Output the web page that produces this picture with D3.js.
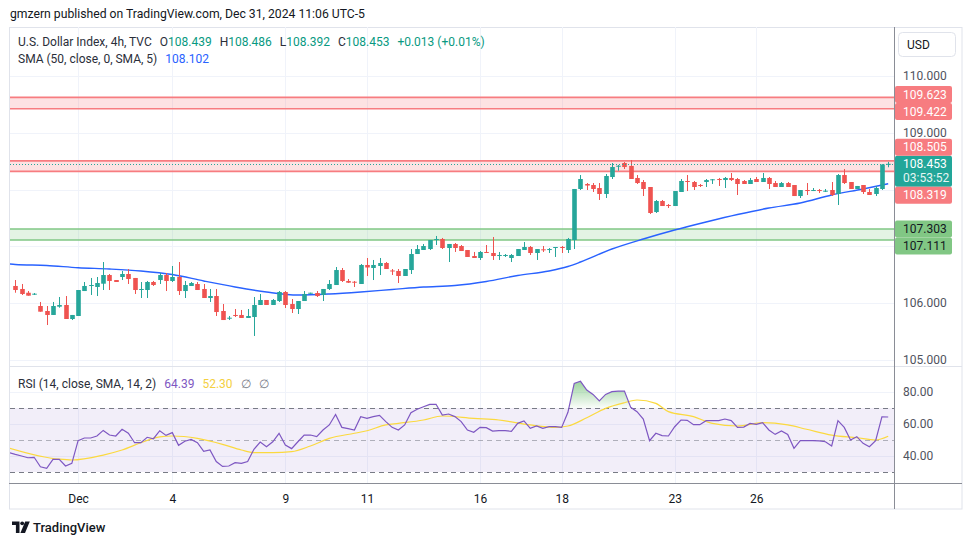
<!DOCTYPE html>
<html><head><meta charset="utf-8">
<script src="https://cdn.jsdelivr.net/npm/d3@7"></script>
<style>body{margin:0;background:#fff}svg{display:block;font-family:Roboto,"Noto Sans",sans-serif}</style>
</head><body><svg id="c" width="970" height="545"></svg>
<script>
// ---------- DATA ----------
const opens=[106.300,106.247,106.181,106.153,105.947,105.859,105.789,105.935,105.965,105.718,
105.771,106.211,106.305,106.282,106.340,106.493,106.405,106.458,106.511,106.441,
106.234,106.229,106.370,106.405,106.493,106.388,106.458,106.211,106.300,106.335,
106.247,106.088,106.123,105.859,105.723,105.789,105.789,105.736,105.753,105.965,
106.053,105.965,106.035,106.194,105.982,105.894,106.035,106.164,106.176,106.141,
106.247,106.317,106.581,106.388,106.375,106.335,106.670,106.617,106.652,106.705,
106.573,106.564,106.476,106.581,106.863,106.934,106.951,107.110,107.128,106.969,
107.040,107.004,106.934,106.828,106.793,106.899,106.881,106.828,106.828,106.793,
106.828,106.934,106.987,106.881,106.946,106.934,106.969,106.987,106.934,107.110,
108.009,108.097,108.079,108.026,107.921,108.220,108.402,108.467,108.414,108.203,
108.132,108.044,107.603,107.797,107.727,107.709,107.956,108.150,108.132,108.079,
108.132,108.167,108.185,108.167,108.203,108.185,108.150,108.097,108.185,108.132,
108.203,108.114,108.044,108.114,108.079,107.885,107.991,107.973,107.991,107.961,
107.991,107.921,108.255,108.132,108.009,108.079,107.956,107.921,108.009,108.439];
const highs=[106.405,106.335,106.211,106.176,106.018,105.947,106.018,106.106,106.123,105.789,
106.229,106.370,106.441,106.458,106.722,106.511,106.405,106.564,106.599,106.441,
106.370,106.388,106.388,106.529,106.529,106.652,106.722,106.388,106.370,106.370,
106.335,106.247,106.247,105.982,105.771,105.894,105.877,105.894,106.106,106.159,
106.053,106.070,106.211,106.211,106.070,106.035,106.211,106.181,106.211,106.247,
106.405,106.634,106.617,106.423,106.388,106.687,106.793,106.758,106.793,106.722,
106.599,106.599,106.599,106.951,107.022,107.040,107.110,107.181,107.146,107.040,
107.057,107.022,106.934,106.899,106.916,107.022,107.163,106.899,106.863,106.863,
106.951,107.075,107.004,106.951,107.004,106.969,106.987,107.004,107.146,108.009,
108.255,108.114,108.114,108.114,108.273,108.467,108.432,108.484,108.520,108.255,
108.167,108.044,107.815,107.815,107.744,107.973,108.185,108.255,108.150,108.097,
108.185,108.185,108.203,108.220,108.291,108.203,108.167,108.203,108.220,108.291,
108.220,108.150,108.132,108.132,108.079,107.991,108.114,108.026,108.009,108.009,
108.132,108.273,108.361,108.132,108.062,108.079,108.009,108.062,108.445,108.486];
const lows=[106.181,106.141,106.129,106.141,105.847,105.612,105.789,105.917,105.718,105.700,
105.771,106.211,106.141,106.123,106.229,106.229,106.370,106.405,106.335,106.159,
106.088,106.088,106.300,106.335,106.211,106.370,106.141,106.088,106.300,106.229,
106.088,106.018,105.771,105.700,105.700,105.753,105.736,105.736,105.419,105.965,
105.965,105.965,106.018,105.912,105.824,105.806,106.035,106.164,106.106,106.035,
106.229,106.317,106.370,106.352,106.282,106.335,106.476,106.405,106.493,106.599,
106.493,106.352,106.476,106.511,106.863,106.934,106.934,107.022,106.951,106.722,
106.899,106.916,106.811,106.793,106.758,106.881,106.758,106.758,106.811,106.722,
106.828,106.934,106.846,106.758,106.899,106.881,106.811,106.881,106.881,106.951,
107.991,107.991,107.956,107.815,107.850,108.185,108.331,108.361,108.185,108.097,
107.885,107.568,107.586,107.709,107.674,107.709,107.956,107.973,107.991,108.044,
108.044,108.097,108.062,108.026,108.150,107.903,108.097,108.097,108.132,108.132,
108.009,108.044,108.044,108.044,107.885,107.850,107.903,107.973,107.938,107.956,
107.885,107.727,108.097,108.009,108.009,107.921,107.903,107.885,107.991,108.392];
const closes=[106.229,106.159,106.129,106.164,105.847,105.789,105.947,105.965,105.718,105.789,
106.229,106.300,106.317,106.352,106.493,106.388,106.370,106.511,106.423,106.229,
106.247,106.370,106.317,106.493,106.388,106.458,106.211,106.317,106.352,106.229,
106.088,106.123,105.841,105.700,105.741,105.771,105.736,105.771,105.965,106.053,
105.965,106.053,106.194,105.965,105.894,106.035,106.159,106.181,106.123,106.247,
106.335,106.581,106.388,106.358,106.365,106.670,106.626,106.670,106.705,106.599,
106.564,106.476,106.599,106.863,106.951,107.004,107.110,107.128,106.969,107.040,
106.969,106.916,106.811,106.793,106.899,106.886,106.828,106.846,106.846,106.846,
106.951,106.987,106.881,106.951,106.929,106.951,106.987,106.969,107.128,108.009,
108.185,108.070,108.009,107.921,108.238,108.396,108.419,108.396,108.185,108.114,
108.009,107.586,107.797,107.709,107.709,107.973,108.150,108.132,108.044,108.062,
108.167,108.180,108.167,108.203,108.167,108.097,108.097,108.167,108.132,108.203,
108.097,108.044,108.114,108.044,107.885,107.991,107.973,107.991,107.973,107.979,
107.903,108.255,108.114,108.009,108.062,107.956,107.903,108.026,108.440,108.453];

const smaIdx=[-1,0,5,10,15,20,25,30,35,40,45,50,55,60,65,70,75,80,85,88,90,95,100,105,110,115,120,125,130,135,139];
const smaVal=[106.69,106.678,106.661,106.622,106.599,106.564,106.502,106.388,106.282,106.194,106.141,106.159,106.194,106.238,106.282,106.308,106.379,106.485,106.564,106.643,106.722,106.951,107.128,107.286,107.427,107.559,107.674,107.762,107.903,108.009,108.102];

const rsiStart=-1;
const rsiVal=[42.1,41.0,40,38.9,39.2,33.3,32.3,37.9,37.9,33.75,35.4,
49.6,51.25,51.25,52.5,56,53.1,52.5,56.7,54.2,48.3,
48.3,51.7,50.8,55.8,52.9,54.6,46.7,49.2,50.4,48.3,
42.9,43.75,36.5,33.5,33.75,35.8,35.4,36.5,44.2,48.75,
45.8,48.9,54.2,46.9,44.6,48.9,53.1,53.1,52.1,56.25,
59.4,66,57.9,57.1,56.25,64.6,63.5,64.6,65.4,61.5,
57.9,56.25,59.4,67.1,69.2,70.8,72.3,72.3,65.6,66.25,
64.6,61.5,56.25,54.8,57.9,57.7,55.6,55.8,55.8,55.4,
60.4,61.9,57.3,58.75,57.3,58.3,58.3,57.9,67.3,85.4,
86.7,81.25,78.5,74.4,78.5,80.2,80.6,80.6,70.4,67.7,
63.1,49.6,54.2,52.7,52.5,58.3,62.5,62.3,59.6,59.6,
62.1,62.1,62.1,63.1,62.1,57.9,58.1,60.4,59.8,60.8,
56.25,53.5,55.6,53.5,44.8,49.6,49.6,49.6,49.4,48.9,
46.25,62.1,57.9,50,52.1,47.9,45.8,49.6,64.4,64.39];
const rsiMaIdx=[-1,7,9,14,17,20,23,25,29,33,36,38,41,44,47,50,54,56,59,61,65,68,73,77,82,86,88,91,94,97,99,102,104,108,111,115,119,123,126,130,134,137,139];
const rsiMaVal=[45,38,37.5,40.6,43.75,48.3,52,52.5,51,47.3,43.75,42.1,42.1,42.7,46.25,51,54.2,55.8,59.4,60.4,62.5,65,63.5,62.5,59.4,57.9,58.75,63.9,69.8,73.3,75,72.9,67.7,64.6,60.4,58.75,60.8,59.4,56.7,53.1,51.4,50,52.3];

const tickIdx=[10,25,43,56,74,87,105,118];
const tickLabels=["Dec","4","9","11","16","18","23","26"];
const priceTicks=[105,106,107,108,109,110];
const rsiTicks=[40,60,80];
const zoneLo=[109.422,108.319,107.111];
const zoneHi=[109.623,108.505,107.303];
const zoneKind=["red","red","green"];
const countdown="03:53:52";
const smaLast=108.102, rsiLast=64.39, rsiMaLast=52.30;

// ---------- LAYOUT ----------
const svg=d3.select("#c");
const L=10,R=894,mainTop=27,mainBot=366,rsiTop=367,rsiBot=483,axisBot=509,outerR=962;
const n=closes.length;
const x=d3.scaleLinear().domain([0,n-1]).range([15.3,888.2]);
const y=d3.scaleLinear().domain([105,110]).range([359.75,76]);
const yr=d3.scaleLinear().domain([30,70]).range([472,408]);
const UP="#26a69a",DN="#ef5350",GRID="#f0f3fa",BORDER="#e0e3eb",AX="#8a8d96",TXT="#131722";
const colors={red:{line:"#f77c80",fill:"rgba(247,124,128,0.22)",box:"#f77c80",txt:"#fff"},
              green:{line:"#81c784",fill:"rgba(129,199,132,0.22)",box:"#81c784",txt:TXT}};

const defs=svg.append("defs");
defs.append("clipPath").attr("id","cm").append("rect").attr("x",L).attr("y",mainTop).attr("width",R-L).attr("height",mainBot-mainTop);
defs.append("clipPath").attr("id","cr").append("rect").attr("x",L).attr("y",rsiTop).attr("width",R-L).attr("height",rsiBot-rsiTop);
defs.append("clipPath").attr("id","cob").append("rect").attr("x",L).attr("y",rsiTop).attr("width",R-L).attr("height",yr(70)-rsiTop);
const grad=defs.append("linearGradient").attr("id","obg").attr("gradientUnits","userSpaceOnUse")
  .attr("x1",0).attr("x2",0).attr("y1",yr(88)).attr("y2",yr(70));
grad.append("stop").attr("offset",0).attr("stop-color","#4caf50").attr("stop-opacity",0.6);
grad.append("stop").attr("offset",1).attr("stop-color","#4caf50").attr("stop-opacity",0.03);

// header
svg.append("text").attr("x",10).attr("y",18).attr("font-size",12.2).attr("fill",TXT)
  .text("gmzern published on TradingView.com, Dec 31, 2024 11:06 UTC-5");

// frame
svg.append("rect").attr("x",9.5).attr("y",27.5).attr("width",outerR-9.5).attr("height",axisBot-27.5)
  .attr("fill","#fff").attr("stroke",BORDER);

// grids
const g=svg.append("g");
tickIdx.forEach(t=>{
  const xx=Math.round(x(t))+0.5;
  g.append("line").attr("x1",xx).attr("x2",xx).attr("y1",mainTop).attr("y2",mainBot).attr("stroke",GRID);
  g.append("line").attr("x1",xx).attr("x2",xx).attr("y1",rsiTop).attr("y2",rsiBot).attr("stroke",GRID);
});
priceTicks.forEach(p=>{
  const yy=Math.round(y(p))+0.5;
  g.append("line").attr("x1",L).attr("x2",R).attr("y1",yy).attr("y2",yy).attr("stroke",GRID);
});
rsiTicks.forEach(v=>{
  const yy=Math.round(yr(v))+0.5;
  g.append("line").attr("x1",L).attr("x2",R).attr("y1",yy).attr("y2",yy).attr("stroke",GRID);
});

// zones
const main=svg.append("g").attr("clip-path","url(#cm)");
zoneLo.forEach((lo,i)=>{
  const c=colors[zoneKind[i]];
  main.append("rect").attr("x",L).attr("width",R-L).attr("y",y(zoneHi[i])).attr("height",y(lo)-y(zoneHi[i])).attr("fill",c.fill);
  [lo,zoneHi[i]].forEach(p=>main.append("line").attr("x1",L).attr("x2",R).attr("y1",y(p)).attr("y2",y(p)).attr("stroke",c.line).attr("stroke-width",1.6));
});

// SMA
const smaPts=smaIdx.map((i,k)=>[i,smaVal[k]]);
main.append("path").datum(smaPts).attr("fill","none").attr("stroke","#2962ff").attr("stroke-width",1.4)
  .attr("d",d3.line().x(d=>x(d[0])).y(d=>y(d[1])).curve(d3.curveMonotoneX));

// candles
const bw=4.6;
const cd=d3.range(n).map(i=>({i,o:opens[i],h:highs[i],l:lows[i],c:closes[i]}));
const cg=main.append("g").selectAll("g").data(cd).join("g");
cg.append("line").attr("x1",d=>Math.round(x(d.i))+0.5).attr("x2",d=>Math.round(x(d.i))+0.5)
  .attr("y1",d=>y(d.h)).attr("y2",d=>y(d.l)).attr("stroke",d=>d.c>=d.o?UP:DN).attr("stroke-width",1);
cg.append("rect").attr("x",d=>Math.round(x(d.i))+0.5-bw/2).attr("width",bw)
  .attr("y",d=>y(Math.max(d.o,d.c))).attr("height",d=>Math.max(1,Math.abs(y(d.o)-y(d.c))))
  .attr("fill",d=>d.c>=d.o?UP:DN);

// last price dotted line
const last=closes[n-1];
main.append("line").attr("x1",L).attr("x2",R).attr("y1",Math.round(y(last))+0.5).attr("y2",Math.round(y(last))+0.5)
  .attr("stroke",UP).attr("stroke-dasharray","1,2");

// separators / axis lines
svg.append("line").attr("x1",9).attr("x2",outerR).attr("y1",366.5).attr("y2",366.5).attr("stroke",BORDER);
svg.append("line").attr("x1",9).attr("x2",outerR).attr("y1",rsiBot+0.5).attr("y2",rsiBot+0.5).attr("stroke",AX);
svg.append("line").attr("x1",R+0.5).attr("x2",R+0.5).attr("y1",27).attr("y2",axisBot).attr("stroke",AX);

// RSI pane
const rp=svg.append("g").attr("clip-path","url(#cr)");
rp.append("rect").attr("x",L).attr("width",R-L).attr("y",yr(70)).attr("height",yr(30)-yr(70)).attr("fill","rgba(126,87,194,0.1)");
[70,30].forEach(v=>rp.append("line").attr("x1",L).attr("x2",R).attr("y1",yr(v)+0.5).attr("y2",yr(v)+0.5)
  .attr("stroke","#787b86").attr("stroke-dasharray","5,4"));
rp.append("line").attr("x1",L).attr("x2",R).attr("y1",yr(50)+0.5).attr("y2",yr(50)+0.5)
  .attr("stroke","rgba(120,123,134,0.55)").attr("stroke-dasharray","5,4");
const rsiData=rsiVal.map((v,k)=>({i:k+rsiStart,v}));
rp.append("g").attr("clip-path","url(#cob)").append("path").datum(rsiData).attr("fill","url(#obg)")
  .attr("d",d3.area().x(d=>x(d.i)).y0(yr(70)).y1(d=>yr(d.v)));
const maData=rsiMaIdx.map((i,k)=>({i,v:rsiMaVal[k]}));
rp.append("path").datum(maData).attr("fill","none").attr("stroke","#fbd93f").attr("stroke-width",1.2)
  .attr("d",d3.line().x(d=>x(d.i)).y(d=>yr(d.v)).curve(d3.curveMonotoneX));
rp.append("path").datum(rsiData).attr("fill","none").attr("stroke","#7e57c2").attr("stroke-width",1.2)
  .attr("d",d3.line().x(d=>x(d.i)).y(d=>yr(d.v)));

// ---------- PRICE LABELS ----------
const H1=17;
const lastTop=y(last)-8, lastH=31;
const boxes=[{top:lastTop,h:lastH,kind:"last"}];
const zl=[];
zoneLo.forEach((lo,i)=>{zl.push({p:zoneHi[i],kind:zoneKind[i]});zl.push({p:lo,kind:zoneKind[i]});});
const above=zl.filter(d=>d.p>last).sort((a,b)=>a.p-b.p);
let limit=lastTop;
above.forEach(d=>{let c=Math.min(y(d.p),limit-H1/2);d.top=c-H1/2;limit=d.top;});
// centre free-standing pairs around their mean ideal position
for(let k=above.length-1;k>0;k--){
  const a=above[k],b=above[k-1];
  if(b.top===a.top+H1 && y(b.p)<lastTop-H1){
    const mid=(y(a.p)+y(b.p))/2; a.top=mid-H1; b.top=mid;
  }
}
above.forEach(d=>boxes.push({top:d.top,h:H1,kind:d.kind,p:d.p}));
const below=zl.filter(d=>d.p<last).sort((a,b)=>b.p-a.p);
let lim2=lastTop+lastH;
below.forEach(d=>{let c=Math.max(y(d.p),lim2+H1/2);d.top=c-H1/2;lim2=d.top+H1;boxes.push({top:d.top,h:H1,kind:d.kind,p:d.p});});

// axis tick labels (hidden if covered)
const visTicks=priceTicks.filter(p=>!boxes.some(b=>y(p)+5>b.top&&y(p)-5<b.top+b.h));
const pa=svg.append("g").attr("transform",`translate(${R},0)`)
  .call(d3.axisRight(y).tickValues(visTicks).tickFormat(d3.format(".3f")).tickSize(0).tickPadding(9));
pa.select(".domain").remove();
pa.selectAll("text").attr("font-size",12).attr("fill","#50535e").attr("font-family","Roboto,sans-serif");

const lb=svg.append("g");
boxes.forEach(b=>{
  if(b.kind==="last"){
    lb.append("rect").attr("x",R+1).attr("y",b.top).attr("width",57).attr("height",b.h).attr("rx",2).attr("fill","#22a699");
    lb.append("text").attr("x",R+9).attr("y",b.top+12.5).attr("font-size",12).attr("fill","#fff").text(d3.format(".3f")(last));
    lb.append("text").attr("x",R+9).attr("y",b.top+26).attr("font-size",12).attr("fill","#e6f5f3").text(countdown);
  } else {
    const c=colors[b.kind];
    lb.append("rect").attr("x",R+1).attr("y",b.top).attr("width",57).attr("height",b.h).attr("rx",2).attr("fill",c.box);
    lb.append("text").attr("x",R+9).attr("y",b.top+12.5).attr("font-size",12).attr("fill",c.txt).text(d3.format(".3f")(b.p));
  }
});

// RSI axis
const ra=svg.append("g").attr("transform",`translate(${R},0)`)
  .call(d3.axisRight(yr).tickValues(rsiTicks).tickFormat(d3.format(".2f")).tickSize(0).tickPadding(9));
ra.select(".domain").remove();
ra.selectAll("text").attr("font-size",12).attr("fill","#50535e").attr("font-family","Roboto,sans-serif");

// x axis
const xa=svg.append("g").attr("transform",`translate(0,${rsiBot+11})`)
  .call(d3.axisBottom(x).tickValues(tickIdx).tickFormat((d,i)=>tickLabels[i]).tickSize(0).tickPadding(0));
xa.select(".domain").remove();
xa.selectAll("text").attr("font-size",12).attr("fill",TXT).attr("font-family","Roboto,sans-serif");

// USD button
svg.append("rect").attr("x",898.5).attr("y",32.5).attr("width",57).attr("height",24).attr("rx",4)
  .attr("fill","#fff").attr("stroke",BORDER);
svg.append("text").attr("x",907).attr("y",49).attr("font-size",12).attr("fill",TXT).text("USD");

// legends
const f3=d3.format(".3f");
const chg=closes[n-1]-closes[n-2];
const TEAL="#089981";
const l1=svg.append("text").attr("x",18).attr("y",46).attr("font-size",12).attr("fill","#2a2e39");
l1.append("tspan").text("U.S. Dollar Index, 4h, TVC");
[["O",opens[n-1]],["H",highs[n-1]],["L",lows[n-1]],["C",closes[n-1]]].forEach(([k,v])=>{
  l1.append("tspan").attr("dx",8).text(k);
  l1.append("tspan").attr("fill",TEAL).text(f3(v));
});
l1.append("tspan").attr("dx",8).attr("fill",TEAL).text((chg>=0?"+":"")+f3(chg)+" ("+(chg>=0?"+":"")+d3.format(".2f")(chg/closes[n-2]*100)+"%)");
const l2=svg.append("text").attr("x",18).attr("y",63).attr("font-size",12).attr("fill","#2a2e39");
l2.append("tspan").text("SMA (50, close, 0, SMA, 5)");
l2.append("tspan").attr("dx",8).attr("fill","#2962ff").text(f3(smaLast));
const l3=svg.append("text").attr("x",18).attr("y",388).attr("font-size",12).attr("fill","#2a2e39");
l3.append("tspan").text("RSI (14, close, SMA, 14, 2)");
l3.append("tspan").attr("dx",8).attr("fill","#7e57c2").text(d3.format(".2f")(rsiLast));
l3.append("tspan").attr("dx",8).attr("fill","#f4d03f").text(d3.format(".2f")(rsiMaLast));
l3.append("tspan").attr("dx",8).attr("fill","#787b86").text("∅");
l3.append("tspan").attr("dx",8).attr("fill","#787b86").text("∅");

// footer logo
const lg=svg.append("g").attr("fill",TXT);
lg.append("path").attr("d","M12,521.5 h7.5 v11.5 h-3.6 v-8 h-3.9 z");
lg.append("circle").attr("cx",22.2).attr("cy",523.3).attr("r",1.9);
lg.append("path").attr("d","M25.2,521.5 h4.6 l-4.8,11.5 h-4.6 z");
svg.append("text").attr("x",33).attr("y",532).attr("font-size",13).attr("font-weight",500).attr("fill",TXT).text("TradingView");
</script></body></html>
